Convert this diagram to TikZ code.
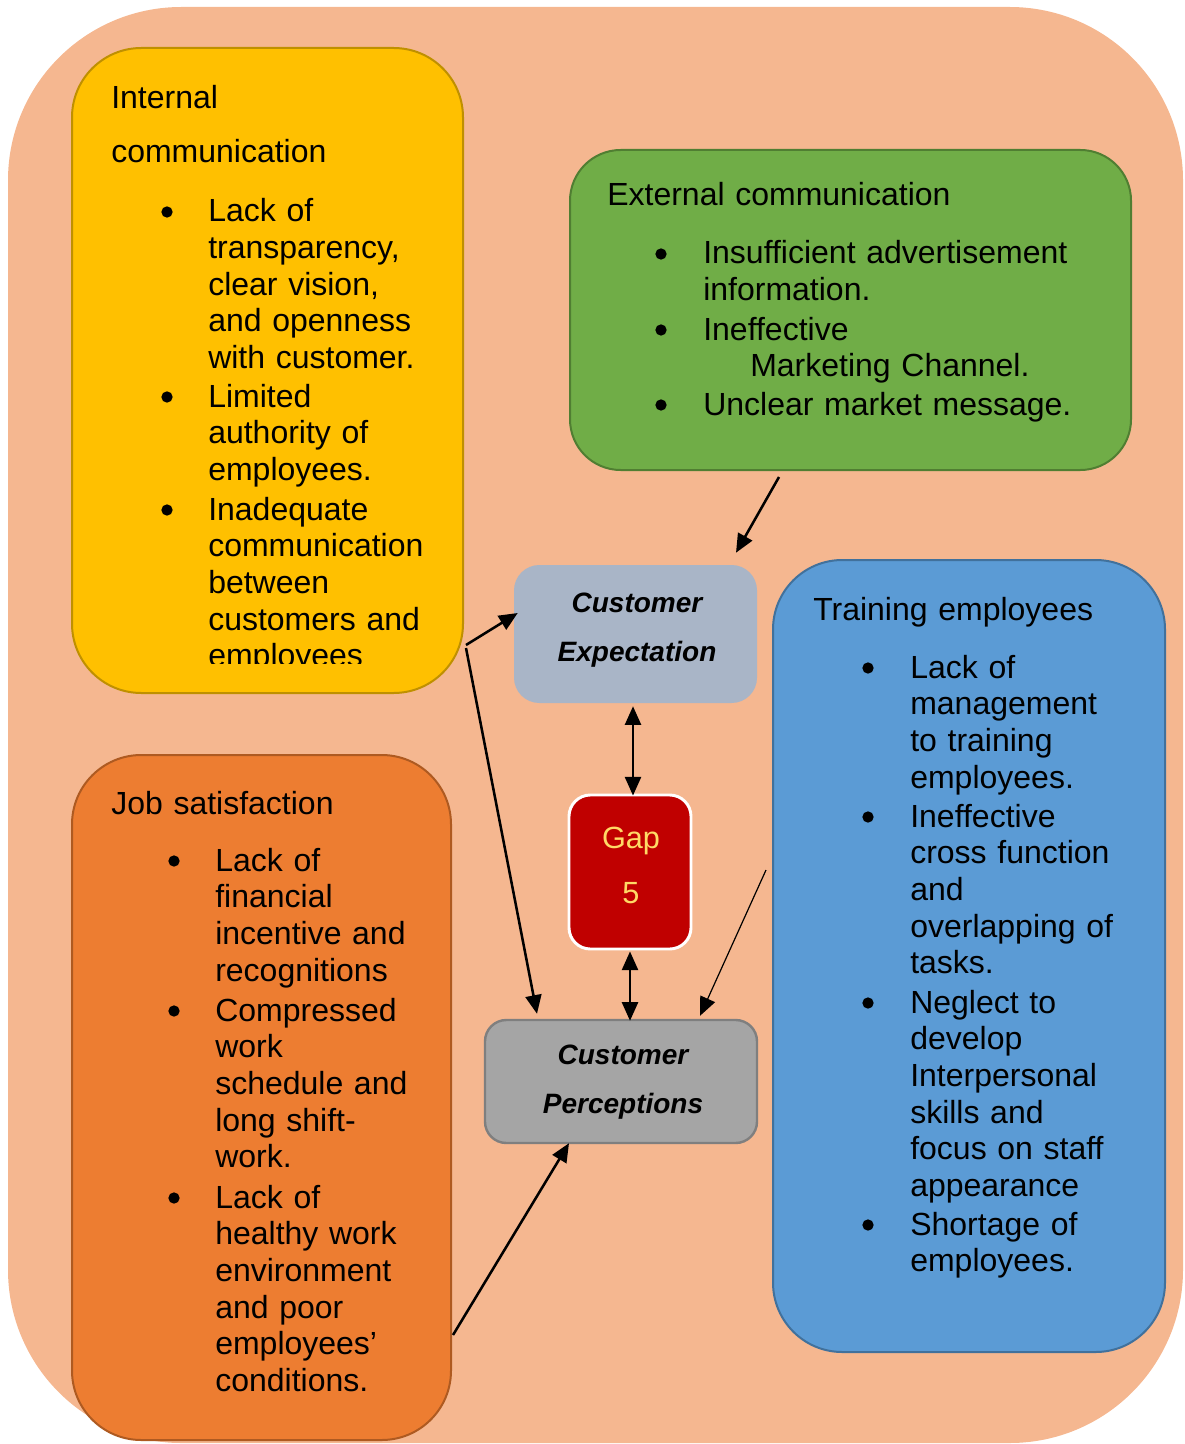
\documentclass[tikz,border=0pt]{standalone}
\usepackage{fontspec}
\setmainfont{Liberation Sans}
\usetikzlibrary{arrows.meta,calc}
\definecolor{bgpeach}{HTML}{F5B790}
\definecolor{yelfill}{HTML}{FFC000}
\definecolor{yeldraw}{HTML}{BF9000}
\definecolor{grnfill}{HTML}{70AD47}
\definecolor{grndraw}{HTML}{507E32}
\definecolor{blufill}{HTML}{5B9BD5}
\definecolor{bludraw}{HTML}{41719C}
\definecolor{orgfill}{HTML}{ED7D31}
\definecolor{orgdraw}{HTML}{AE5A21}
\definecolor{cefill}{HTML}{A9B5C7}
\definecolor{cpfill}{HTML}{A5A5A5}
\definecolor{cpdraw}{HTML}{7F7F7F}
\definecolor{gapfill}{HTML}{C00000}
\definecolor{gaptext}{HTML}{FFD966}
\tikzset{
  bigbox/.style={rectangle, rounded corners=52pt, line width=1.5pt, inner sep=0pt},
  smallbox/.style={rectangle, rounded corners=16pt, inner sep=0pt},
  txt/.style={anchor=base west, inner sep=0pt, text width=320pt, align=left,
    font=\fontsize{24pt}{27.5pt}\selectfont},
  bul/.style={circle, fill=black, inner sep=0pt, minimum size=8.5pt},
  lbl/.style={anchor=base, inner sep=0pt, text width=190pt, align=center,
    font=\fontsize{21pt}{36.75pt}\selectfont\bfseries\itshape},
  tip/.style={Triangle[length=14pt,width=12pt]},
  arr/.style={line width=1.9pt, -{Triangle[length=14pt,width=12pt]}},
  dbl/.style={line width=1.9pt, {Triangle[length=14pt,width=12pt]}-{Triangle[length=14pt,width=12pt]}},
  thinarr/.style={line width=0.9pt, -{Triangle[length=14pt,width=12pt]}}
}
\begin{document}
\begin{tikzpicture}[x=0.75pt,y=-0.75pt]
\useasboundingbox (0,0) rectangle (1184,1444);
% background
\fill[bgpeach, rounded corners=130pt] (8,7) rectangle (1183,1443);

% boxes
\node[bigbox, fill=yelfill, draw=yeldraw, minimum width=293.25pt, minimum height=483.75pt] (yellow) at (267.5,370.5) {};
\node[bigbox, rounded corners=38pt, fill=grnfill, draw=grndraw, minimum width=420.75pt, minimum height=240pt] (green) at (850.5,310) {};
\node[bigbox, fill=blufill, draw=bludraw, minimum width=294pt, minimum height=594pt] (blue) at (969,956) {};
\node[bigbox, fill=orgfill, draw=orgdraw, minimum width=284.25pt, minimum height=513.75pt] (orange) at (261.5,1097.5) {};
\node[smallbox, rounded corners=19pt, fill=cefill, minimum width=182.25pt, minimum height=103.5pt] (ce) at (635.5,634) {};
\node[smallbox, fill=gapfill, draw=white, line width=2.2pt, minimum width=91.5pt, minimum height=115.5pt] (gap) at (630,872) {};
\node[smallbox, fill=cpfill, draw=cpdraw, line width=1.8pt, minimum width=204pt, minimum height=92.25pt] (cp) at (621,1081.5) {};

% arrows
\draw[arr] ($(green.south)+(-71.5,6)$) -- ($(ce.north)+(100.5,-12)$);
\draw[arr] ($(yellow.east)+(2,274.5)$) -- ($(ce.west)+(4,-21)$);
\draw[arr] ($(yellow.east)+(2,277.5)$) -- ($(cp.north)+(-84,-5)$);
\draw[dbl] ($(ce.south)+(-2.5,3)$) -- ($(gap.north)+(3,2)$);
\draw[dbl] ($(gap.south)+(0,1)$) -- ($(cp.north)+(9,2)$);
\draw[thinarr] ($(blue.west)+(-6,-86)$) -- ($(cp.north)+(79,-3)$);
\draw[arr] ($(orange.east)+(1,237.5)$) -- ($(cp.south)+(-52,-1)$);

% yellow text
\node[txt] (ytitle) at (111,109) {Internal\\[13pt]communication};
\node[bul] (yb1) at (167,212) {};
\node[txt] (yi1) at (208,222) {Lack of\\transparency,\\clear vision,\\and openness\\with customer.};
\node[bul] (yb2) at (167,397) {};
\node[txt] (yi2) at (208,407) {Limited\\authority of\\employees.};
\node[bul] (yb3) at (167,510) {};
\begin{scope}
\clip (100,480) rectangle (463,663);
\node[txt] (yi3) at (208,520) {Inadequate\\communication\\between\\customers and\\employees};
\end{scope}

% green text
\node[txt] (gtitle) at (607,206) {External communication};
\node[bul] (gb1) at (661,254) {};
\node[txt] (gi1) at (703,264) {Insufficient advertisement\\information.};
\node[bul] (gb2) at (661,330) {};
\node[txt] (gi2) at (703,340) {Ineffective\\\hspace*{35.25pt}Marketing Channel.};
\node[bul] (gb3) at (661,405) {};
\node[txt] (gi3) at (703,415) {Unclear market message.};

% blue text
\node[txt] (btitle) at (813,620) {Training employees};
\node[bul] (bb1) at (868,668) {};
\node[txt] (bi1) at (910,678) {Lack of\\management\\to training\\employees.};
\node[bul] (bb2) at (868,817) {};
\node[txt] (bi2) at (910,827) {Ineffective\\cross function\\and\\overlapping of\\tasks.};
\node[bul] (bb3) at (868,1003) {};
\node[txt] (bi3) at (910,1013) {Neglect to\\develop\\Interpersonal\\skills and\\focus on staff\\appearance};
\node[bul] (bb4) at (868,1225) {};
\node[txt] (bi4) at (910,1235) {Shortage of\\employees.};

% orange text
\node[txt] (otitle) at (111,814) {Job satisfaction};
\node[bul] (ob1) at (174,861) {};
\node[txt] (oi1) at (215,871) {Lack of\\financial\\incentive and\\recognitions};
\node[bul] (ob2) at (174,1011) {};
\node[txt] (oi2) at (215,1021) {Compressed\\work\\schedule and\\long shift-\\work.};
\node[bul] (ob3) at (174,1198) {};
\node[txt] (oi3) at (215,1208) {Lack of\\healthy work\\environment\\and poor\\employees’\\conditions.};

% center labels
\node[lbl] (cetext) at (637,612) {Customer\\Expectation};
\node[lbl] (cptext) at (623,1064) {Customer\\Perceptions};
\node[anchor=base, inner sep=0pt, text width=80pt, align=center, text=gaptext,
  font=\fontsize{23pt}{41.25pt}\selectfont] (gaptxt) at (631,848) {Gap\\5};
\end{tikzpicture}
\end{document}
